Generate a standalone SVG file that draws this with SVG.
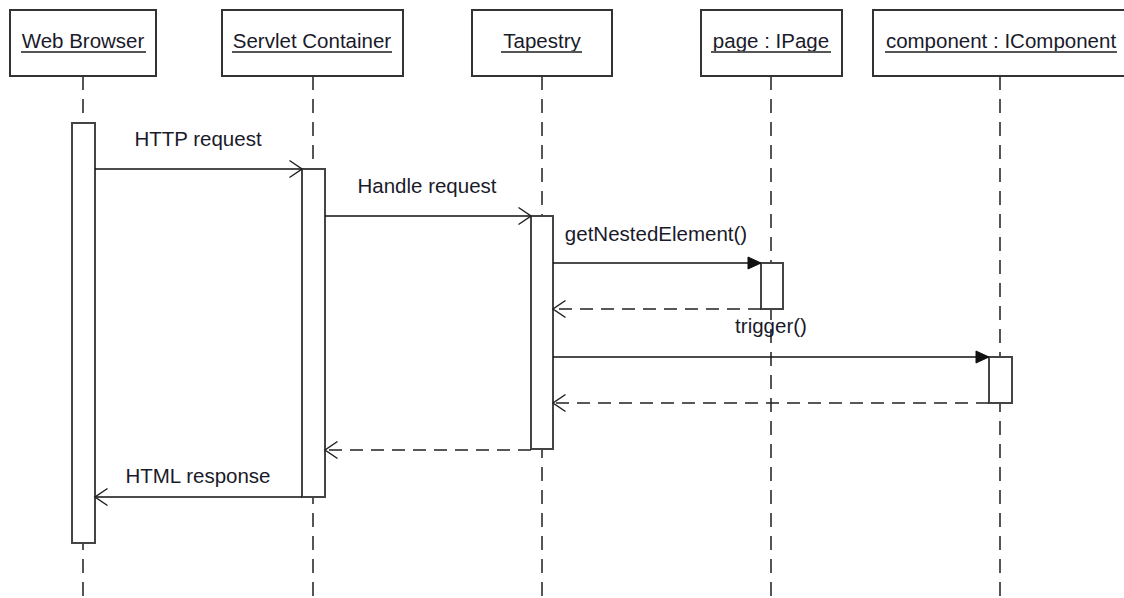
<svg xmlns="http://www.w3.org/2000/svg" width="1124" height="598" viewBox="0 0 1124 598">
<style>
.box{fill:#fff;stroke:#333;stroke-width:2}
.lbl{font-family:"Liberation Sans",Arial,sans-serif;font-size:20.5px;fill:#1a1a2a;text-anchor:middle}
.ul{stroke:#555;stroke-width:2}
.life{stroke:#555;stroke-width:2;stroke-dasharray:14,9;fill:none}
.act{fill:#fff;stroke:#444;stroke-width:2}
.msg{stroke:#111;stroke-width:1.5;fill:none}
.ret{stroke:#222;stroke-width:1.5;fill:none;stroke-dasharray:13,8}
</style>
<defs>
<marker id="open" markerUnits="userSpaceOnUse" markerWidth="16" markerHeight="22" viewBox="-14 -11 16 22" refX="0" refY="0" orient="auto">
<path d="M-12.5,-8.5 L0,0 L-12.5,8.5" fill="none" stroke="#222" stroke-width="1.5"/>
</marker>
<marker id="filled" markerUnits="userSpaceOnUse" markerWidth="16" markerHeight="16" viewBox="-14 -8 16 16" refX="0" refY="0" orient="auto">
<path d="M-13,-6 L0,0 L-13,6 Z" fill="#111" stroke="#111" stroke-width="1"/>
</marker>
</defs>
<rect width="1124" height="598" fill="#fff"/>

<g id="lifelines">
<line class="life" x1="83" y1="76" x2="83" y2="598"/>
<line class="life" x1="313" y1="76" x2="313" y2="598"/>
<line class="life" x1="542" y1="76" x2="542" y2="598"/>
<line class="life" x1="771" y1="76" x2="771" y2="598"/>
<line class="life" x1="1000" y1="76" x2="1000" y2="598"/>
</g>

<g id="web-browser">
<rect class="box" x="10" y="10" width="146" height="66"/>
<text class="lbl" x="83" y="48">Web Browser</text>
<line class="ul" x1="21" y1="52" x2="146" y2="52"/>
<rect class="act" x="72" y="123" width="23" height="420"/>
</g>

<g id="servlet-container">
<rect class="box" x="222" y="10" width="181" height="66"/>
<text class="lbl" x="312" y="48">Servlet Container</text>
<line class="ul" x1="232" y1="52" x2="392" y2="52"/>
<rect class="act" x="302" y="169" width="23" height="328"/>
</g>

<g id="tapestry">
<rect class="box" x="472" y="10" width="140" height="66"/>
<text class="lbl" x="542" y="48">Tapestry</text>
<line class="ul" x1="501" y1="52" x2="582" y2="52"/>
<rect class="act" x="531" y="216" width="22" height="233"/>
</g>

<g id="page">
<rect class="box" x="701" y="10" width="141" height="66"/>
<text class="lbl" x="771" y="48">page : IPage</text>
<line class="ul" x1="711" y1="52" x2="831" y2="52"/>
<rect class="act" x="761" y="263" width="22" height="46"/>
</g>

<g id="component">
<rect class="box" x="873" y="10" width="256" height="66"/>
<text class="lbl" x="1001" y="48">component : IComponent</text>
<line class="ul" x1="885" y1="52" x2="1117" y2="52"/>
<rect class="act" x="989" y="357" width="23" height="46"/>
</g>

<g id="connectors">
<line class="msg" x1="95" y1="169" x2="302" y2="169" marker-end="url(#open)"/>
<text class="lbl" x="198" y="146">HTTP request</text>
<line class="msg" x1="325" y1="216" x2="531" y2="216" marker-end="url(#open)"/>
<text class="lbl" x="427" y="193">Handle request</text>
<line class="msg" x1="553" y1="263" x2="761" y2="263" marker-end="url(#filled)"/>
<text class="lbl" x="656" y="241">getNestedElement()</text>
<line class="ret" x1="761" y1="309" x2="553" y2="309" marker-end="url(#open)"/>
<line class="msg" x1="553" y1="357" x2="989" y2="357" marker-end="url(#filled)"/>
<text class="lbl" x="771" y="333">trigger()</text>
<line class="ret" x1="989" y1="403" x2="553" y2="403" marker-end="url(#open)"/>
<line class="ret" x1="531" y1="450" x2="325" y2="450" marker-end="url(#open)"/>
<line class="msg" x1="302" y1="497" x2="95" y2="497" marker-end="url(#open)"/>
<text class="lbl" x="198" y="483">HTML response</text>
</g>
</svg>
